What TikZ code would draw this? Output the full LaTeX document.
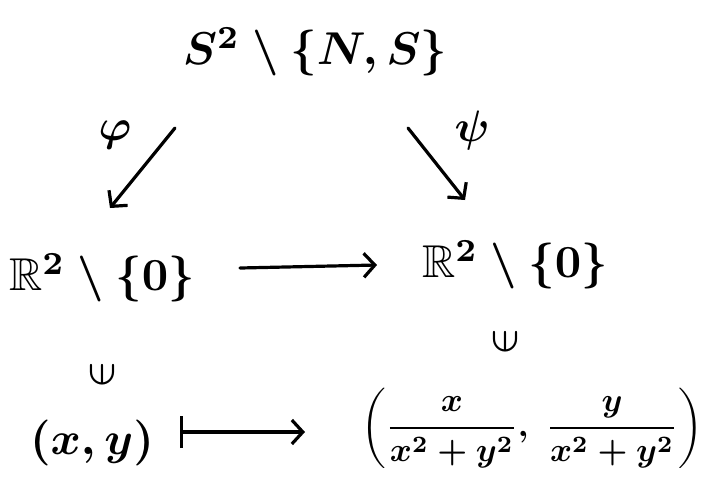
\documentclass[tikz,border=0pt]{standalone}
\usepackage{amsmath,amssymb,graphicx}
\usetikzlibrary{arrows.meta,calc}
\begin{document}
\begin{tikzpicture}[x=1pt,y=-1pt,
  obj/.style={inner sep=0pt, scale=4.6, font=\boldmath},
  tup/.style={inner sep=0pt, scale=3.35, font=\boldmath},
  lbl/.style={inner sep=0pt, scale=4.4, font=\boldmath},
  elem/.style={inner sep=0pt, scale=3.6, font=\boldmath},
  arr/.style={line width=3.2pt, line cap=round, line join=round, -{Straight Barb[length=11pt,width=24pt]}},
  maparr/.style={line width=3.2pt, line cap=round, line join=round, {Bar[width=32pt]}-{Straight Barb[length=11pt,width=24pt]}},
 ]
\useasboundingbox[fill=white] (0,0) rectangle (708,499);
\node[obj] (top) at (315,52) {$S^2\setminus\{N,S\}$};
\node[obj] (leftR) at (102,278) {$\mathbb{R}^2\setminus\{0\}$};
\node[obj] (rightR) at (515,265) {$\mathbb{R}^2\setminus\{0\}$};
\node[elem] (inL) at (102,375) {\rotatebox{90}{$\in$}};
\node[elem] (inR) at (505,342) {\rotatebox{90}{$\in$}};
\node[obj] (xy) at (92,443) {$(x,y)$};
\node[tup] (tuple) at (532,428) {$\left(\dfrac{x}{x^2+y^2},\ \dfrac{y}{x^2+y^2}\right)$};
\node[lbl] (phi) at (115,135) {$\varphi$};
\node[lbl] (psi) at (472,130) {$\psi$};
\draw[arr] ($(top)+(-140,76)$) -- ($(leftR)+(8,-70)$);
\draw[arr] ($(top)+(93,76)$) -- ($(rightR)+(-50,-65)$);
\draw[arr] ($(leftR)+(138,-10)$) -- ($(rightR)+(-138,0)$);
\draw[maparr] ($(xy)+(88,-11)$) -- ($(tuple)+(-227,4)$);
\end{tikzpicture}
\end{document}
